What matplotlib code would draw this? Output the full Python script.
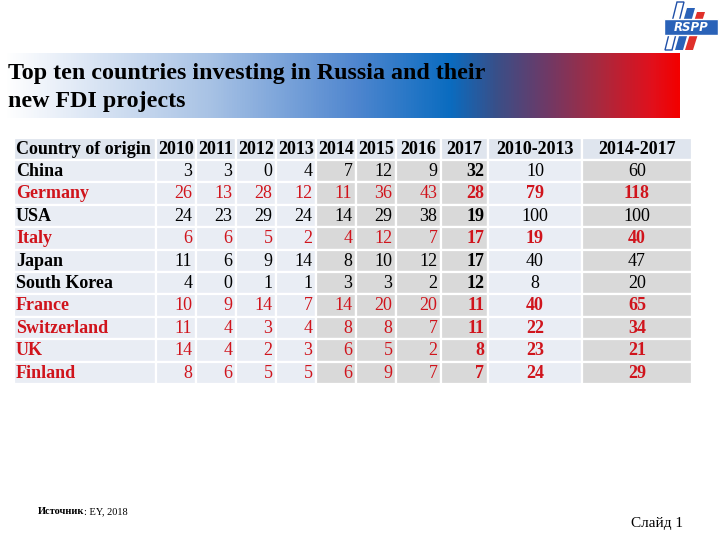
import matplotlib
matplotlib.use("Agg")
import matplotlib.pyplot as plt
import numpy as np
from matplotlib.patches import Rectangle, Polygon
from matplotlib.colors import LinearSegmentedColormap

# ---- data ----
countries = ["China", "Germany", "USA", "Italy", "Japan", "South Korea",
             "France", "Switzerland", "UK", "Finland"]
highlight = [False, True, False, True, False, False, True, True, True, True]
years = ["2010", "2011", "2012", "2013", "2014", "2015", "2016", "2017"]
v2010 = [3, 26, 24, 6, 11, 4, 10, 11, 14, 8]
v2011 = [3, 13, 23, 6, 6, 0, 9, 4, 4, 6]
v2012 = [0, 28, 29, 5, 9, 1, 14, 3, 2, 5]
v2013 = [4, 12, 24, 2, 14, 1, 7, 4, 3, 5]
v2014 = [7, 11, 14, 4, 8, 3, 14, 8, 6, 6]
v2015 = [12, 36, 29, 12, 10, 3, 20, 8, 5, 9]
v2016 = [9, 43, 38, 7, 12, 2, 20, 7, 2, 7]
v2017 = [32, 28, 19, 17, 17, 12, 11, 11, 8, 7]
sum_2010_2013 = [10, 79, 100, 19, 40, 8, 40, 22, 23, 24]
sum_2014_2017 = [60, 118, 100, 40, 47, 20, 65, 34, 21, 29]
period_labels = ["2010-2013", "2014-2017"]
header_first = "Country of origin"
title_lines = ["Top ten countries investing in Russia and their", "new FDI projects"]

year_values = [v2010, v2011, v2012, v2013, v2014, v2015, v2016, v2017]

# ---- figure ----
fig = plt.figure(figsize=(7.2, 5.4), dpi=100)
ax = fig.add_axes([0, 0, 1, 1])
ax.set_xlim(0, 720)
ax.set_ylim(540, 0)
ax.axis("off")

SERIF = "Liberation Serif"
RED = "#d0141c"
LIGHT = "#e9edf4"
GRAY = "#d9d9d9"
HEAD = "#dfe5ee"

# ---- title band gradient ----
stops = [(0.0, "#ffffff"), (0.05, "#f1f5fb"), (0.30, "#a9c3e5"), (0.52, "#4f86cf"),
         (0.66, "#0a6cc0"), (0.73, "#3a4f88"), (0.80, "#6c3a68"), (0.88, "#a72a40"),
         (0.96, "#e1101c"), (1.0, "#f20000")]
cmap = LinearSegmentedColormap.from_list("band", stops)
grad = np.linspace(0, 1, 512).reshape(1, -1)
ax.imshow(grad, cmap=cmap, aspect="auto", extent=(5, 680, 118, 53), zorder=1)
ax.text(8, 73, title_lines[0], fontsize=17.3, fontweight="bold", family=SERIF,
        va="center", ha="left", zorder=3)
ax.text(8, 102, title_lines[1], fontsize=17.3, fontweight="bold", family=SERIF,
        va="center", ha="left", zorder=3)

# ---- logo ----
ax.add_patch(Polygon([(677, 2), (684, 2), (672, 50), (665, 50)], closed=True,
                     facecolor="white", edgecolor="#1f4fa8", lw=1.0, zorder=2))
ax.add_patch(Polygon([(687, 8), (695, 8), (683, 50), (675, 50)], closed=True,
                     facecolor="#2a62b8", edgecolor="none", zorder=2))
ax.add_patch(Polygon([(697, 12), (705, 12), (693, 50), (685, 50)], closed=True,
                     facecolor="#e0302a", edgecolor="none", zorder=2))
ax.add_patch(Rectangle((664, 19), 54, 16, facecolor="#2a62b8", edgecolor="white",
                       lw=1.0, zorder=3))
ax.text(691, 27.5, "RSPP", fontsize=8.5, fontweight="bold", style="italic",
        family="DejaVu Sans", color="white", ha="center", va="center", zorder=4)

# ---- table ----
col_edges = [14, 156, 196, 236, 276, 316, 356, 396, 441, 488, 582, 692]
top = 137.5
row_h = 22.4
n_rows = len(countries)

def cell_color(r, c):
    if r == 0:
        return HEAD
    if c == 0 or 1 <= c <= 4 or c == 9:
        return LIGHT
    return GRAY

for r in range(n_rows + 1):
    y0 = top + r * row_h
    for c in range(len(col_edges) - 1):
        x0, x1 = col_edges[c], col_edges[c + 1]
        ax.add_patch(Rectangle((x0, y0), x1 - x0, row_h, facecolor=cell_color(r, c),
                               edgecolor="white", lw=1.6, zorder=2))

FS = 13
# header
yc = top + row_h / 2 + 0.5
ax.text(col_edges[0] + 2, yc, header_first, fontsize=FS, fontweight="bold",
        family=SERIF, ha="left", va="center", zorder=3)
for i, yr in enumerate(years):
    xc = (col_edges[1 + i] + col_edges[2 + i]) / 2
    ax.text(xc, yc, yr, fontsize=FS, fontweight="bold", family=SERIF,
            ha="center", va="center", zorder=3)
for j, lab in enumerate(period_labels):
    xc = (col_edges[9 + j] + col_edges[10 + j]) / 2
    ax.text(xc, yc, lab, fontsize=FS, fontweight="bold", family=SERIF,
            ha="center", va="center", zorder=3)

# body
for r, name in enumerate(countries):
    yc = top + (r + 1) * row_h + row_h / 2 + 0.5
    color = RED if highlight[r] else "black"
    ax.text(col_edges[0] + 2, yc, name, fontsize=FS, fontweight="bold",
            family=SERIF, color=color, ha="left", va="center", zorder=3)
    for i in range(len(years)):
        xr = col_edges[2 + i] - 3.5
        w = "bold" if i == len(years) - 1 else "normal"
        ax.text(xr, yc, str(year_values[i][r]), fontsize=FS, fontweight=w,
                family=SERIF, color=color, ha="right", va="center", zorder=3)
    for j, vals in enumerate([sum_2010_2013, sum_2014_2017]):
        xc = (col_edges[9 + j] + col_edges[10 + j]) / 2
        w = "bold" if highlight[r] else "normal"
        ax.text(xc, yc, str(vals[r]), fontsize=FS, fontweight=w, family=SERIF,
                color=color, ha="center", va="center", zorder=3)

# ---- footer ----
src_bold = ax.text(38, 512, "Источник", fontsize=7.5, fontweight="bold", family=SERIF,
                   ha="left", va="center")
fig.canvas.draw()
bb = src_bold.get_window_extent(renderer=fig.canvas.get_renderer())
x_end = bb.x1 * 72.0 / fig.dpi * (100 / 72.0)
ax.text(x_end, 512, ": EY, 2018", fontsize=7.5, family=SERIF, ha="left", va="center")
ax.text(683, 523, "Слайд 1", fontsize=11, family=SERIF, ha="right", va="center")

fig.savefig("out.png", dpi=100)
